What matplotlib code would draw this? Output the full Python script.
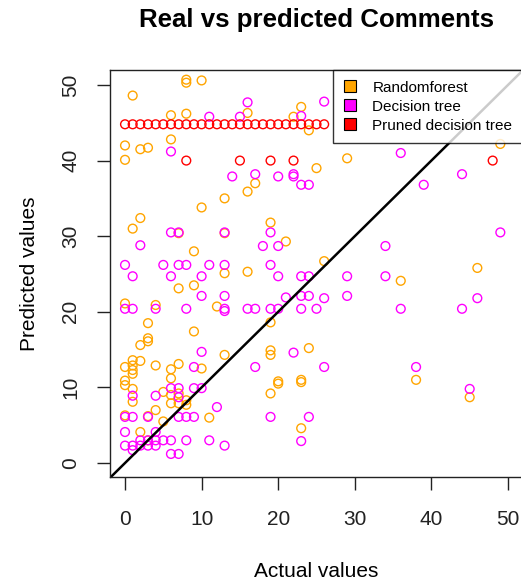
import matplotlib
matplotlib.use('Agg')
import matplotlib.pyplot as plt
from matplotlib.lines import Line2D

plt.rcParams['font.family'] = ['Liberation Sans', 'DejaVu Sans']

# Randomforest predictions (actual, predicted)
rf_actual = [1, 8, 8, 10, 6, 8, 16, 23, 22, 24, 0, 2, 3, 6, 0, 29, 25, 17, 16, 13,
             10, 2, 19, 1, 7, 13, 21, 9, 26, 13, 16, 9, 7, 0, 4, 12, 3, 19, 9, 3,
             3, 2, 24, 19, 19, 13, 0, 1, 1, 1, 1, 2, 4, 6, 7, 10, 0, 0, 1, 6,
             20, 20, 23, 23, 19, 5, 6, 7, 1, 6, 7, 8, 8, 4, 11, 0, 3, 5, 23, 2,
             3, 36, 46, 38, 45, 49]
rf_pred = [48.6, 50.7, 50.3, 50.6, 46.0, 46.2, 46.3, 47.1, 45.8, 44.0, 42.0, 41.5, 41.7, 42.8, 40.1, 40.3, 39.0, 37.0, 35.9, 35.0,
           33.8, 32.4, 31.8, 31.0, 30.4, 30.4, 29.3, 28.0, 26.7, 25.1, 25.3, 23.5, 23.1, 21.1, 20.9, 20.7, 18.5, 18.6, 17.4, 16.5,
           16.1, 15.6, 15.2, 14.9, 14.3, 14.3, 12.7, 13.6, 12.9, 12.3, 11.8, 13.5, 12.9, 12.4, 13.1, 12.5, 10.9, 10.3, 9.8, 11.2,
           10.8, 10.5, 11.0, 10.7, 9.2, 9.4, 9.0, 9.2, 8.1, 7.9, 7.9, 8.3, 7.7, 7.0, 6.0, 6.3, 6.2, 5.5, 4.6, 4.1,
           3.0, 24.1, 25.8, 11.0, 8.7, 42.2]

# Decision tree predictions
dt_actual = [16, 26, 11, 15, 23, 6, 36, 14, 17, 20, 22, 22, 44, 23, 24, 39, 6, 7, 13, 19,
             49, 2, 18, 20, 34, 0, 5, 7, 8, 11, 13, 19, 1, 6, 10, 20, 23, 24, 29, 34,
             10, 13, 21, 23, 24, 26, 29, 46, 0, 1, 4, 8, 13, 13, 16, 17, 19, 20, 23, 25,
             36, 44, 10, 22, 9, 17, 26, 38, 6, 7, 9, 10, 45, 1, 4, 7, 12, 0, 1, 3,
             7, 8, 9, 19, 24, 0, 4, 2, 3, 4, 5, 6, 8, 11, 23, 0, 1, 2, 3, 4,
             13, 1, 6, 7]
dt_pred = [47.7, 47.8, 45.8, 45.8, 45.9, 41.2, 41.0, 37.9, 38.2, 37.9, 38.2, 37.9, 38.2, 36.8, 36.8, 36.8, 30.5, 30.5, 30.5, 30.5,
           30.5, 28.8, 28.7, 28.7, 28.7, 26.2, 26.2, 26.2, 26.2, 26.2, 26.2, 26.2, 24.7, 24.7, 24.7, 24.7, 24.7, 24.7, 24.7, 24.7,
           22.1, 22.1, 21.9, 22.1, 22.1, 21.8, 22.1, 21.8, 20.4, 20.4, 20.4, 20.4, 20.4, 20.1, 20.4, 20.4, 20.4, 20.4, 20.4, 20.4,
           20.4, 20.4, 14.7, 14.6, 12.7, 12.7, 12.7, 12.7, 9.9, 9.9, 9.9, 9.9, 9.8, 8.9, 8.9, 8.7, 7.4, 6.1, 6.1, 6.1,
           6.1, 6.1, 6.1, 6.1, 6.1, 4.1, 4.1, 3.0, 3.0, 3.0, 3.0, 3.0, 3.0, 3.0, 2.9, 2.3, 2.3, 2.3, 2.3, 2.3,
           2.3, 1.7, 1.2, 1.2]

# Pruned decision tree predictions
pdt_actual = list(range(27)) + [8, 15, 19, 22, 48]
pdt_pred = [44.8] * 27 + [40.0, 40.0, 40.0, 40.0, 40.0]

labels = ['Randomforest', 'Decision tree', 'Pruned decision tree']
colors = ['orange', 'magenta', 'red']

W, H = 521, 585
fig = plt.figure(figsize=(W / 100, H / 100), dpi=100)
# plot region in pixels: x 110..523 (right edge just off the picture), y 70..477
ax = fig.add_axes([110 / W, (H - 477) / H, 413 / W, 407 / H])

ax.scatter(rf_actual, rf_pred, s=40, facecolors='none', edgecolors=colors[0], linewidths=1.0)
ax.scatter(dt_actual, dt_pred, s=40, facecolors='none', edgecolors=colors[1], linewidths=1.0)
ax.scatter(pdt_actual, pdt_pred, s=40, facecolors='none', edgecolors=colors[2], linewidths=1.0)
ax.axline((0, 0), slope=1, color='black', lw=1.8)

ax.set_xlim(-1.96, 51.96)
ax.set_ylim(-1.85, 51.98)
ax.set_xticks([0, 10, 20, 30, 40, 50])
ax.set_yticks([0, 10, 20, 30, 40, 50])
ax.tick_params(direction='out', length=9.5, width=1.0, labelsize=15, colors='#222222')
ax.tick_params(axis='x', pad=14)
ax.tick_params(axis='y', pad=12)
for lab in ax.get_yticklabels():
    lab.set_rotation(90)
    lab.set_ha('right')
    lab.set_va('center')
for sp in ax.spines.values():
    sp.set_linewidth(1.0)
    sp.set_color('#222222')

ax.set_xlabel('Actual values', fontsize=15)
ax.xaxis.set_label_coords(0.499, -0.233)
ax.xaxis.label.set_va('center')
ax.set_ylabel('Predicted values', fontsize=15)
ax.yaxis.set_label_coords(-0.194, 0.5)
ax.yaxis.label.set_va('center')
ax.set_title('Real vs predicted Comments', fontsize=18.6, fontweight='bold',
             y=1.124, va='center', pad=0)

handles = [Line2D([], [], marker='s', linestyle='none', markersize=9,
                  markerfacecolor=c, markeredgecolor='black', markeredgewidth=0.8) for c in colors]
leg = ax.legend(handles, labels, loc='upper right', fontsize=11, frameon=True, fancybox=False,
                borderaxespad=0, borderpad=0.7, labelspacing=0.33, handlelength=0.9,
                handletextpad=1.0)
leg.get_frame().set_edgecolor('black')
leg.get_frame().set_linewidth(1.0)

fig.savefig('out.png', dpi=100)
